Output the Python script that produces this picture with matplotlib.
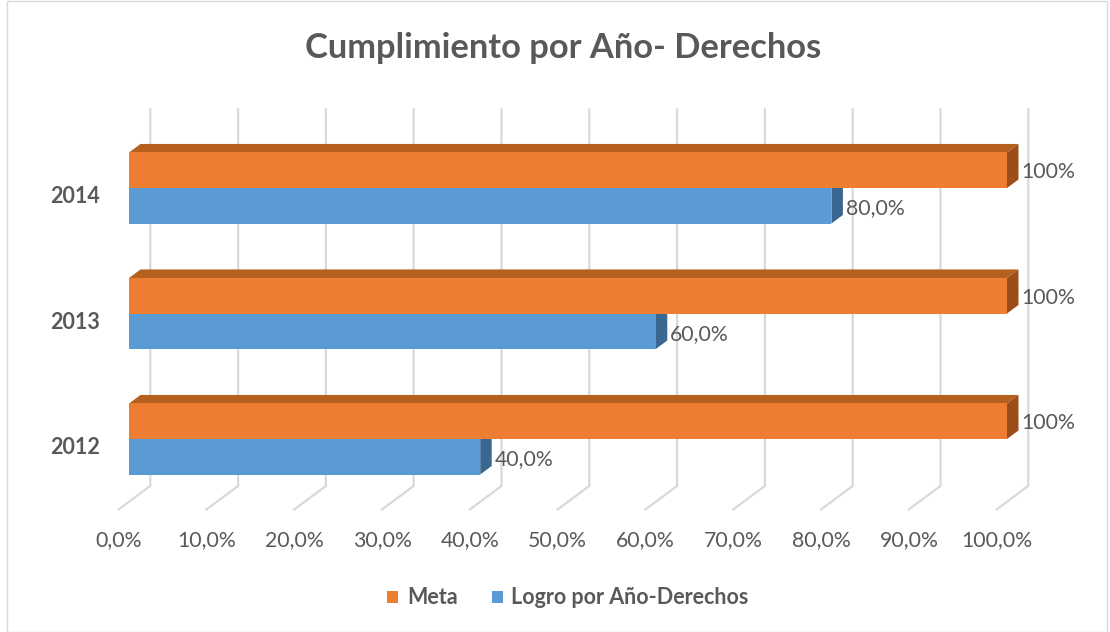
import numpy as np
import matplotlib
matplotlib.use('Agg')
import matplotlib.pyplot as plt
from matplotlib.patches import Polygon, Patch, Rectangle

plt.rcParams['font.family'] = ['Lato', 'DejaVu Sans']

# data
years = ['2012', '2013', '2014']
meta = [100, 100, 100]
logro = [40.0, 60.0, 80.0]
ticks = [0, 10, 20, 30, 40, 50, 60, 70, 80, 90, 100]

txt_col = '#595959'
grid_col = '#D9D9D9'
orange = ('#ED7D31', '#B5601F', '#9C4E1A')   # front, top, side
blue = ('#5B9BD5', '#4A7FB0', '#3B6890')

# oblique 3d helpers (data units)
DX, DY = 1.31, 0.068       # offset for one unit of depth
WALL, FLOOR = 1.85, -0.9   # depth of back wall / front of floor
H = 0.283                  # bar thickness


def P(v, c, d):
    return (v + d * DX, c + d * DY)


fig = plt.figure(figsize=(11.1, 6.32), dpi=100)
ax = fig.add_axes([0, 0, 1, 1])
ax.set_xlim(-129 / 8.78, (1110 - 129) / 8.78)
ax.set_ylim(-193 / 125.5, (632 - 193) / 125.5)
ax.axis('off')

# back wall gridlines + floor lines
for t in ticks:
    x0, y0 = P(t, -0.5, WALL)
    x1, y1 = P(t, 2.5, WALL)
    x2, y2 = P(t, -0.5, FLOOR)
    ax.plot([x1, x0, x2], [y1, y0, y2], color=grid_col, lw=1.6,
            solid_joinstyle='miter', zorder=1)
    ax.text(x2, -0.805, f'{t:.1f}%'.replace('.', ','), ha='center',
            va='center', fontsize=15.3, color=txt_col)


def bar3d(v, y0, y1, cols):
    front, top, side = cols
    ax.add_patch(Polygon([P(0, y1, 0), P(v, y1, 0), P(v, y1, 1), P(0, y1, 1)],
                         closed=True, fc=top, ec='none', zorder=2))
    ax.add_patch(Polygon([P(v, y0, 0), P(v, y1, 0), P(v, y1, 1), P(v, y0, 1)],
                         closed=True, fc=side, ec='none', zorder=2))
    ax.add_patch(Polygon([P(0, y0, 0), P(v, y0, 0), P(v, y1, 0), P(0, y1, 0)],
                         closed=True, fc=front, ec='none', zorder=2))


for i, yr in enumerate(years):
    bar3d(logro[i], i - H, i, blue)
    bar3d(meta[i], i, i + H, orange)
    ax.text(logro[i] + DX + 0.3, i - H / 2 - 0.02,
            f'{logro[i]:.1f}%'.replace('.', ','), ha='left', va='center',
            fontsize=15.3, color=txt_col, zorder=3)
    ax.text(meta[i] + DX + 0.3, i + H / 2 - 0.015, f'{meta[i]:.0f}%',
            ha='left', va='center', fontsize=15.3, color=txt_col, zorder=3)
    ax.text(-6.15, i - 0.07, yr, ha='center', va='center', fontsize=15.5,
            fontweight='bold', color=txt_col)

fig.text(563 / 1110, 1 - 48 / 632, 'Cumplimiento por Año- Derechos',
         ha='center', va='center', fontsize=24.8, fontweight='bold', color=txt_col)

handles = [Patch(fc=orange[0], label='Meta'),
           Patch(fc=blue[0], label='Logro por Año-Derechos')]
fig.legend(handles=handles, loc='center', bbox_to_anchor=(568 / 1110, 1 - 598 / 632),
           ncol=2, frameon=False, handlelength=0.5, handleheight=0.5,
           handletextpad=0.4, columnspacing=1.6,
           prop={'size': 15.5, 'weight': 'bold'}, labelcolor=txt_col)

fig.add_artist(Rectangle((7 / 1110, 0.5 / 632), 1100 / 1110, 630.5 / 632,
                         transform=fig.transFigure, fill=False, ec=grid_col, lw=1))

fig.savefig('out.png', dpi=100)
